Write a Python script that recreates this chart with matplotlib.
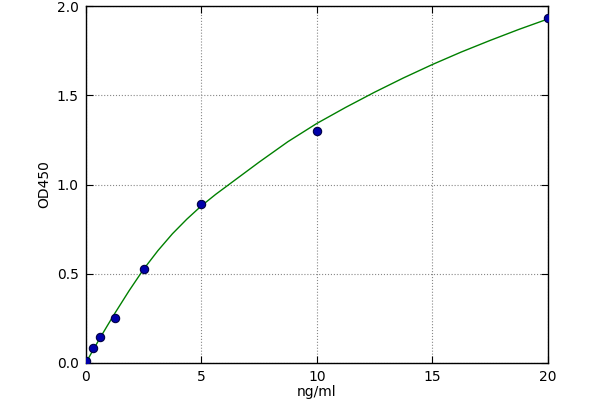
import matplotlib
matplotlib.use("Agg")
import matplotlib.pyplot as plt

# standard points
conc = [0, 0.3125, 0.625, 1.25, 2.5, 5, 10, 20]
od = [0.011, 0.086, 0.145, 0.254, 0.525, 0.893, 1.302, 1.935]

# fitted curve
fit_x = [0, 0.3125, 0.625, 0.9375, 1.25, 1.875, 2.5, 3.125, 3.75, 4.375, 5,
         5.625, 6.25, 6.875, 7.5, 8.75, 10, 11.25, 12.5, 13.75, 15, 16.25,
         17.5, 18.75, 20]
fit_y = [0.0, 0.072, 0.142, 0.21, 0.277, 0.405, 0.525, 0.63, 0.724, 0.806, 0.88,
         0.945, 1.005, 1.065, 1.125, 1.24, 1.342, 1.432, 1.517, 1.597, 1.672, 1.742,
         1.807, 1.869, 1.927]

xticks = [0, 5, 10, 15, 20]
yticks = [0.0, 0.5, 1.0, 1.5, 2.0]

fig = plt.figure(figsize=(6, 4), dpi=100, facecolor="white")
ax = fig.add_axes([0.143, 0.0925, 0.77, 0.8925])

ax.plot(fit_x, fit_y, color="green", lw=1.0, zorder=2)
ax.plot(conc, od, "o", color="#0000aa", mec="#000044", ms=6, mew=0.8, zorder=3)

ax.set_xlim(0, 20)
ax.set_ylim(0, 2.0)
ax.set_xticks(xticks)
ax.set_yticks(yticks)
ax.set_yticklabels(["%.1f" % v for v in yticks])
ax.tick_params(direction="in", top=True, right=True, length=5, labelsize=10, pad=5)
ax.grid(True, linestyle=":", color="#888888", lw=0.8)
for s in ax.spines.values():
    s.set_linewidth(1.0)

ax.set_xlabel("ng/ml", fontsize=10, labelpad=1)
ax.set_ylabel("OD450", fontsize=10)

fig.savefig("out.png", dpi=100, facecolor="white")
